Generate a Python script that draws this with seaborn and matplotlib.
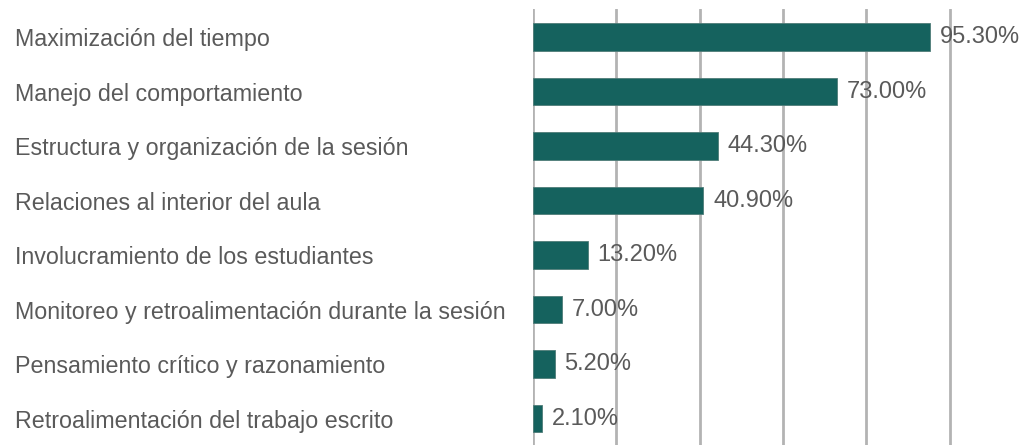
import matplotlib
matplotlib.use("Agg")
import matplotlib.pyplot as plt
import seaborn as sns
import pandas as pd

# Datos del gráfico
categorias = [
    "Maximización del tiempo",
    "Manejo del comportamiento",
    "Estructura y organización de la sesión",
    "Relaciones al interior del aula",
    "Involucramiento de los estudiantes",
    "Monitoreo y retroalimentación durante la sesión",
    "Pensamiento crítico y razonamiento",
    "Retroalimentación del trabajo escrito",
]
porcentajes = [95.3, 73.0, 44.3, 40.9, 13.2, 7.0, 5.2, 2.1]

df = pd.DataFrame({"Categoria": categorias, "Porcentaje": porcentajes})

sns.set_theme(style="white")
plt.rcParams["font.family"] = ["Liberation Sans", "DejaVu Sans"]

fig = plt.figure(figsize=(10.25, 4.45), dpi=100)
ax = fig.add_axes([533 / 1025, 0, 492 / 1025, 436 / 445])

sns.barplot(data=df, y="Categoria", x="Porcentaje", color="#15625e",
            saturation=1, width=0.5, edgecolor="#4f7c78", linewidth=0.6, ax=ax)

ax.bar_label(ax.containers[0], fmt="%.2f%%", padding=7, fontsize=17, color="#5a5a5a")

ax.set_xlim(0, 492 / 4.165)
ax.set_ylim(7.486, -0.514)
ax.set_xticks([0, 20, 40, 60, 80, 100])
ax.xaxis.grid(True, color="#b3b3b3", linewidth=2)
ax.set_axisbelow(True)
ax.set_xticklabels([])
ax.tick_params(axis="x", length=0)
ax.tick_params(axis="y", length=0, pad=373, labelsize=16.75, labelcolor="#5a5a5a")
for lbl in ax.get_yticklabels():
    lbl.set_horizontalalignment("left")
ax.set_xlabel("")
ax.set_ylabel("")
for s in ax.spines.values():
    s.set_visible(False)

fig.savefig("out.png", dpi=100)
plt.close(fig)
